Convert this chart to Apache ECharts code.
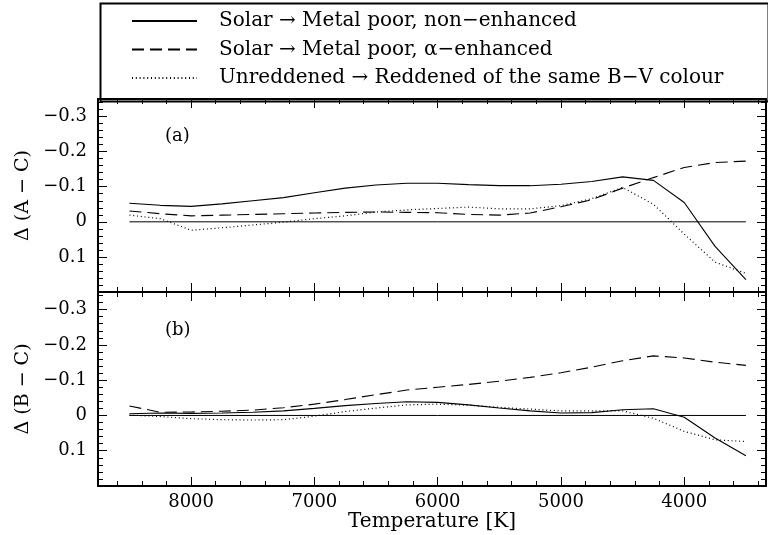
<!DOCTYPE html>
<html><head><meta charset="utf-8">
<script src="https://cdn.jsdelivr.net/npm/echarts@6/dist/echarts.min.js"></script>
<style>html,body{margin:0;padding:0;background:#fff}#c{width:768px;height:535px}</style>
</head><body><div id="c"></div>
<script>
// ---- data ----
const temps = [8500,8250,8000,7750,7500,7250,7000,6750,6500,6250,6000,5750,5500,5250,5000,4750,4500,4250,4000,3750,3500];
const aSolid  = [-0.053,-0.047,-0.044,-0.051,-0.060,-0.069,-0.083,-0.096,-0.105,-0.110,-0.110,-0.106,-0.103,-0.103,-0.107,-0.115,-0.128,-0.118,-0.055,0.070,0.165];
const aDashed = [-0.031,-0.023,-0.017,-0.019,-0.021,-0.023,-0.025,-0.027,-0.028,-0.027,-0.026,-0.021,-0.019,-0.025,-0.043,-0.063,-0.096,-0.126,-0.155,-0.169,-0.173];
const aDotted = [-0.019,-0.009,0.024,0.017,0.009,0.001,-0.009,-0.017,-0.028,-0.034,-0.038,-0.042,-0.037,-0.037,-0.046,-0.066,-0.098,-0.050,0.035,0.115,0.147];
const bSolid  = [-0.005,-0.007,-0.006,-0.007,-0.009,-0.013,-0.020,-0.028,-0.034,-0.039,-0.037,-0.030,-0.021,-0.013,-0.007,-0.008,-0.016,-0.019,0.005,0.064,0.114];
const bDashed = [-0.027,-0.009,-0.010,-0.012,-0.015,-0.022,-0.032,-0.045,-0.059,-0.072,-0.080,-0.088,-0.097,-0.108,-0.121,-0.137,-0.155,-0.169,-0.163,-0.151,-0.142];
const bDotted = [-0.001,0.003,0.009,0.012,0.013,0.012,0.002,-0.011,-0.021,-0.030,-0.032,-0.029,-0.023,-0.018,-0.013,-0.013,-0.013,0.008,0.045,0.069,0.074];
const zeroX = [8500,3500];
const zeroY = [0,0];
const seriesNames = ['Solar \u2192 Metal poor, non\u2212enhanced','Solar \u2192 Metal poor, \u03b1\u2212enhanced','Unreddened \u2192 Reddened of the same B\u2212V colour'];
const xMajorTicks = [8000,7000,6000,5000,4000];
const xMinorTicks = [8600,8400,8200,7800,7600,7400,7200,6800,6600,6400,6200,5800,5600,5400,5200,4800,4600,4400,4200,3800,3600,3400];
const yMajorTicks = [-0.3,-0.2,-0.1,0,0.1];
const yMinorTicks = [-0.34,-0.32,-0.28,-0.26,-0.24,-0.22,-0.18,-0.16,-0.14,-0.12,-0.08,-0.06,-0.04,-0.02,0.02,0.04,0.06,0.08,0.12,0.14,0.16,0.18];
const yTitles = ['\u0394 (A \u2212 C)','\u0394 (B \u2212 C)'];
const panelLabels = ['(a)','(b)'];
const xTitle = 'Temperature [K]';

// ---- layout ----
const FONT = 'DejaVu Serif';
const X_MIN = 3337, X_MAX = 8755, Y_MIN = -0.35, Y_MAX = 0.2;
const grids = [
  {left:98, top:99, width:668, height:193, show:true, borderWidth:2, borderColor:'#000', backgroundColor:'transparent'},
  {left:98, top:99, width:668, height:193, show:false},
  {left:98, top:292, width:668, height:194, show:true, borderWidth:2, borderColor:'#000', backgroundColor:'transparent'},
  {left:98, top:292, width:668, height:194, show:false}
];
const fmtY = v => { if (Math.abs(v) < 1e-9) return '0'; return (v < 0 ? '\u2212' : '') + Math.abs(v).toFixed(1); };

function xAx(gi, pos, ticks, len, labels, name) {
  return {
    type:'value', gridIndex:gi, position:pos, min:X_MIN, max:X_MAX, inverse:true,
    axisLine:{show:false, onZero:false}, splitLine:{show:false},
    axisTick:{show:true, inside:true, length:len, customValues:ticks, lineStyle:{color:'#000', width:1}},
    axisLabel:{show:!!labels, customValues:ticks, margin:7, color:'#000', fontFamily:FONT, fontSize:18, formatter: v => String(v)},
    name: name || '', nameLocation:'middle', nameGap:26,
    nameTextStyle:{color:'#000', fontFamily:FONT, fontSize:20}
  };
}
function yAx(gi, pos, ticks, len, labels, name) {
  return {
    type:'value', gridIndex:gi, position:pos, min:Y_MIN, max:Y_MAX, inverse:true,
    axisLine:{show:false, onZero:false}, splitLine:{show:false},
    axisTick:{show:true, inside:true, length:len, customValues:ticks, lineStyle:{color:'#000', width:1}},
    axisLabel:{show:!!labels, customValues:ticks, margin:11, color:'#000', fontFamily:FONT, fontSize:18, formatter: fmtY},
    name: name || '', nameLocation:'middle', nameGap:63, nameRotate:90,
    nameTextStyle:{color:'#000', fontFamily:FONT, fontSize:19}
  };
}
const xAxes = [
  xAx(0,'bottom',xMajorTicks,9,false), xAx(0,'top',xMajorTicks,9,false),
  xAx(1,'bottom',xMinorTicks,5,false), xAx(1,'top',xMinorTicks,5,false),
  xAx(2,'bottom',xMajorTicks,9,true,xTitle), xAx(2,'top',xMajorTicks,9,false),
  xAx(3,'bottom',xMinorTicks,5,false), xAx(3,'top',xMinorTicks,5,false)
];
const yAxes = [
  yAx(0,'left',yMajorTicks,9,true,yTitles[0]), yAx(0,'right',yMajorTicks,9,false),
  yAx(1,'left',yMinorTicks,5,false), yAx(1,'right',yMinorTicks,5,false),
  yAx(2,'left',yMajorTicks,9,true,yTitles[1]), yAx(2,'right',yMajorTicks,9,false),
  yAx(3,'left',yMinorTicks,5,false), yAx(3,'right',yMinorTicks,5,false)
];
const styles = [
  {color:'#000', width:1.1, type:'solid'},
  {color:'#000', width:1.1, type:[12,6]},
  {color:'#000', width:1.2, type:[1,2.8]}
];
const pair = arr => temps.map((t,i) => [t, arr[i]]);
function mk(name, arr, st, ax) {
  return {type:'line', name:name, xAxisIndex:ax, yAxisIndex:ax, data:pair(arr), symbol:'none',
          lineStyle:st, animation:false, silent:true, z:3};
}
function zero(ax) {
  return {type:'line', name:'zero', xAxisIndex:ax, yAxisIndex:ax, data:zeroX.map((x,i)=>[x,zeroY[i]]),
          symbol:'none', lineStyle:{color:'#000', width:1}, animation:false, silent:true, z:2};
}
const series = [
  zero(0), mk(seriesNames[0], aSolid, styles[0], 0), mk(seriesNames[1], aDashed, styles[1], 0), mk(seriesNames[2], aDotted, styles[2], 0),
  zero(4), mk(seriesNames[0], bSolid, styles[0], 4), mk(seriesNames[1], bDashed, styles[1], 4), mk(seriesNames[2], bDotted, styles[2], 4)
];

const chart = echarts.init(document.getElementById('c'), null, {renderer:'canvas'});
chart.setOption({
  backgroundColor:'#fff',
  animation:false,
  grid:grids,
  xAxis:xAxes,
  yAxis:yAxes,
  legend:{
    data:seriesNames, orient:'vertical', left:131, top:11, padding:0,
    itemWidth:65, itemHeight:20, itemGap:8.5,
    selectedMode:false,
    itemStyle:{color:'transparent', borderWidth:0, opacity:0},
    textStyle:{color:'#000', fontFamily:FONT, fontSize:20, lineHeight:20, padding:[0,0,0,17]}
  },
  graphic:[
    {type:'rect', left:98, top:1, shape:{x:0, y:0, width:668, height:98}, style:{fill:'none', stroke:'#000', lineWidth:2}, silent:true, z:-1},
    {type:'text', left:165, top:127, style:{text:panelLabels[0], font:'18px "DejaVu Serif"', fill:'#000'}, silent:true},
    {type:'text', left:165, top:321, style:{text:panelLabels[1], font:'18px "DejaVu Serif"', fill:'#000'}, silent:true}
  ],
  series:series
});
</script>
</body></html>
